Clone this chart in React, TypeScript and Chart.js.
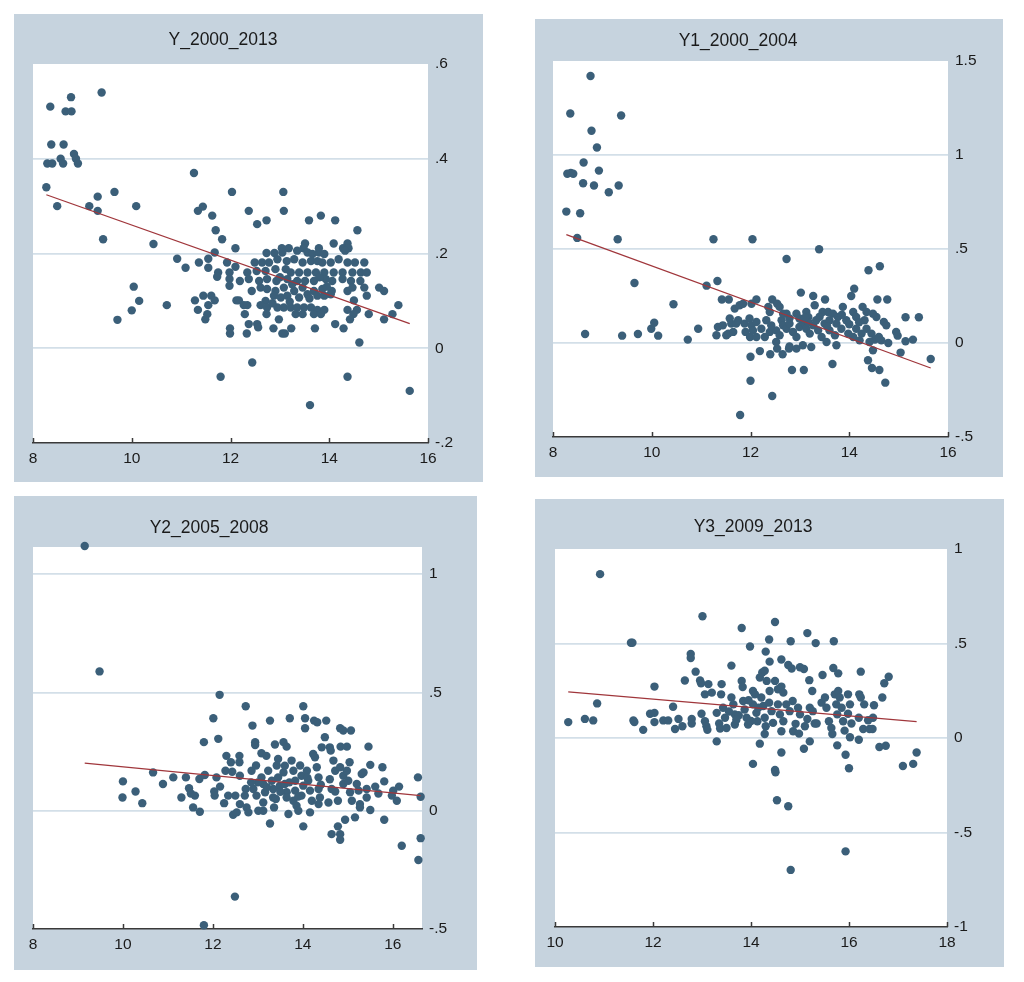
import React, { useEffect, useRef } from "react";
import { Chart, registerables } from "chart.js";

Chart.register(...registerables);

// ---------------- DATA ----------------
const panelTitles = ["Y_2000_2013", "Y1_2000_2004", "Y2_2005_2008", "Y3_2009_2013"];

const y2000_2013Points: [number, number][] = [
  [8.27, 0.34], [8.35, 0.51], [8.37, 0.43], [8.29, 0.39], [8.39, 0.39], [8.49, 0.30], [8.56, 0.40], [8.61, 0.39],
  [8.62, 0.43], [8.66, 0.50], [8.78, 0.50], [8.77, 0.53], [8.83, 0.41], [8.87, 0.40], [8.91, 0.39], [9.14, 0.30],
  [9.31, 0.32], [9.31, 0.29], [9.39, 0.54], [9.42, 0.23], [9.65, 0.33], [9.71, 0.06], [10.0, 0.08], [10.04, 0.13],
  [10.09, 0.30], [10.15, 0.10],
  [11.80, -0.06], [12.44, -0.03], [13.61, -0.12], [14.37, -0.06], [15.63, -0.09],
  [11.26, 0.370], [12.03, 0.330], [13.07, 0.330], [13.08, 0.290], [11.34, 0.290], [11.44, 0.299], [11.63, 0.280],
  [12.37, 0.290], [12.54, 0.262], [12.73, 0.270], [13.59, 0.270], [13.83, 0.280], [14.12, 0.270], [14.57, 0.249],
  [11.70, 0.249], [11.83, 0.230], [10.44, 0.220],
  [13.51, 0.221], [14.09, 0.221], [14.37, 0.221], [13.48, 0.211], [14.28, 0.211], [14.39, 0.211], [13.18, 0.211],
  [13.04, 0.211], [13.79, 0.211], [12.10, 0.211],
  [12.73, 0.201], [12.89, 0.201], [13.05, 0.202], [13.35, 0.206], [13.56, 0.202], [13.66, 0.199], [13.79, 0.202],
  [13.90, 0.199], [14.32, 0.206], [11.68, 0.202], [11.55, 0.189], [10.92, 0.189],
  [11.93, 0.181], [12.10, 0.172], [12.49, 0.181], [12.64, 0.181], [12.78, 0.181], [12.95, 0.188], [13.14, 0.184],
  [13.29, 0.188], [13.46, 0.181], [13.63, 0.184], [13.76, 0.184], [13.86, 0.181], [14.03, 0.181], [14.19, 0.188],
  [14.37, 0.181], [14.52, 0.181], [14.71, 0.181], [11.36, 0.181], [11.09, 0.170], [11.55, 0.170],
  [11.75, 0.160], [11.98, 0.160], [12.34, 0.160], [12.53, 0.163], [12.71, 0.163], [12.91, 0.167], [13.12, 0.167],
  [13.22, 0.160], [13.39, 0.160], [13.56, 0.160], [13.73, 0.160], [13.90, 0.160], [14.09, 0.160], [14.27, 0.160],
  [14.47, 0.160], [14.64, 0.160], [14.76, 0.160], [11.73, 0.151],
  [11.98, 0.146], [12.19, 0.142], [12.37, 0.146], [12.58, 0.142], [12.74, 0.146], [12.93, 0.142], [13.15, 0.146],
  [13.35, 0.142], [13.51, 0.142], [13.69, 0.142], [13.93, 0.146], [14.06, 0.142], [14.27, 0.146], [14.44, 0.142],
  [14.63, 0.142],
  [11.98, 0.132], [12.43, 0.121], [12.61, 0.128], [12.74, 0.125], [12.91, 0.121], [13.08, 0.128], [13.29, 0.121],
  [13.46, 0.128], [13.69, 0.121], [13.86, 0.125], [14.05, 0.121], [14.37, 0.121], [14.47, 0.128], [14.71, 0.128],
  [15.01, 0.128], [15.11, 0.121],
  [11.28, 0.101], [11.45, 0.111], [11.61, 0.111], [11.68, 0.101], [12.12, 0.101], [12.17, 0.101], [12.71, 0.100],
  [12.88, 0.111], [13.02, 0.107], [13.15, 0.111], [13.39, 0.107], [13.56, 0.114], [13.76, 0.111], [13.90, 0.111],
  [14.03, 0.114], [14.50, 0.101], [14.76, 0.111],
  [11.55, 0.091], [11.34, 0.081], [12.27, 0.091], [12.34, 0.091], [12.61, 0.091], [12.74, 0.086], [12.95, 0.086],
  [13.08, 0.086], [13.22, 0.086], [13.35, 0.086], [13.49, 0.086], [13.63, 0.086], [13.76, 0.081], [13.90, 0.081],
  [14.37, 0.081], [14.56, 0.081], [10.71, 0.091], [15.40, 0.091],
  [11.53, 0.072], [11.49, 0.061], [12.29, 0.072], [12.73, 0.072], [12.98, 0.061], [13.32, 0.072], [13.46, 0.072],
  [13.69, 0.072], [13.83, 0.072], [14.49, 0.072], [14.42, 0.061], [14.80, 0.072], [15.11, 0.061], [15.28, 0.072],
  [11.99, 0.042], [11.99, 0.031], [12.37, 0.051], [12.54, 0.051], [12.56, 0.044], [12.33, 0.031], [12.87, 0.042],
  [13.05, 0.031], [13.10, 0.031], [13.23, 0.042], [13.71, 0.042], [14.12, 0.051], [14.29, 0.042], [14.61, 0.012],
  [13.00, 0.150], [13.25, 0.135], [13.60, 0.105], [13.80, 0.150], [13.20, 0.098], [12.85, 0.095], [13.95, 0.130],
];
const y2000_2013FitX = [8.27, 15.63];
const y2000_2013FitY = [0.324, 0.052];

const y1_2000_2004Points: [number, number][] = [
  [8.76, 1.420], [8.35, 1.221], [9.38, 1.210], [8.78, 1.129], [8.89, 1.040], [8.62, 0.960], [8.93, 0.917],
  [8.29, 0.900], [8.36, 0.905], [8.41, 0.900], [8.61, 0.850], [8.83, 0.838], [9.33, 0.838], [9.13, 0.802],
  [8.27, 0.699], [8.55, 0.690], [8.49, 0.559], [9.31, 0.552], [8.65, 0.048], [9.40, 0.039], [9.65, 0.319],
  [9.72, 0.048], [9.99, 0.076], [10.05, 0.108], [10.13, 0.039], [10.44, 0.206], [10.73, 0.018], [10.94, 0.076],
  [11.11, 0.305], [11.25, 0.552], [11.33, 0.330], [12.04, 0.552], [13.39, 0.499], [12.73, 0.447], [14.39, 0.387],
  [14.62, 0.408], [14.10, 0.289], [14.04, 0.250], [13.02, 0.268], [13.27, 0.250], [13.51, 0.231], [14.57, 0.231],
  [14.77, 0.231], [15.14, 0.137], [15.41, 0.137], [14.98, 0.039], [15.14, 0.009], [15.29, 0.018], [15.04, -0.051],
  [15.65, -0.085], [14.79, 0.0], [14.38, -0.092], [14.46, -0.133], [14.61, -0.144], [14.73, -0.211], [13.66, -0.112],
  [12.84, -0.144], [13.08, -0.144], [12.00, -0.201], [12.44, -0.282], [11.79, -0.383], [12.0, -0.073], [12.19, -0.043],
  [12.40, -0.060], [12.65, -0.060], [12.54, -0.030], [12.78, -0.030],
  [11.42, 0.231], [11.56, 0.231], [11.68, 0.183], [11.78, 0.201], [11.85, 0.209], [12.02, 0.209], [12.12, 0.231],
  [12.36, 0.192], [12.44, 0.231], [12.54, 0.209], [12.39, 0.165], [12.73, 0.156], [12.79, 0.130], [13.13, 0.165],
  [13.17, 0.138], [13.30, 0.201], [13.46, 0.165], [13.57, 0.165], [13.67, 0.156], [13.87, 0.192], [13.77, 0.138],
  [14.08, 0.165], [14.14, 0.138], [14.27, 0.192], [14.35, 0.165], [14.48, 0.156], [14.55, 0.138], [14.31, 0.121],
  [14.35, 0.076], [14.45, 0.050], [14.52, 0.018], [14.70, 0.112], [14.75, 0.094], [11.58, 0.130], [11.61, 0.103],
  [11.34, 0.085], [11.31, 0.041], [11.44, 0.094], [11.51, 0.041], [11.55, 0.050], [11.65, 0.059], [11.71, 0.103],
  [11.75, 0.121], [11.88, 0.103], [11.98, 0.130], [12.02, 0.094], [12.12, 0.112], [12.22, 0.076], [11.90, 0.059],
  [11.99, 0.032], [12.29, 0.032], [12.39, 0.059], [12.52, 0.067], [12.59, 0.041], [12.52, 0.005], [12.63, 0.121],
  [12.66, 0.094], [12.73, 0.076], [12.79, 0.103], [12.86, 0.059], [12.93, 0.032], [12.99, 0.085], [13.06, 0.112],
  [12.79, -0.018], [12.93, -0.030], [13.06, -0.012], [13.23, -0.021], [13.13, 0.076], [13.20, 0.050], [13.27, 0.094],
  [13.37, 0.067], [13.44, 0.032], [13.50, 0.103], [13.54, 0.005], [13.60, 0.067], [13.71, 0.041], [13.74, -0.012],
  [13.60, 0.121], [13.74, 0.103], [13.84, 0.076], [13.94, 0.121], [13.98, 0.050], [14.08, 0.032], [14.14, 0.076],
  [14.21, 0.014], [14.25, 0.050], [12.59, 0.192], [12.66, 0.156], [12.32, 0.121], [12.42, 0.094], [12.93, 0.156],
  [12.99, 0.130], [13.17, 0.112], [13.33, 0.121], [14.41, 0.005], [14.48, -0.039], [14.60, 0.032], [14.65, 0.014],
  [14.95, 0.059], [12.12, 0.032], [12.05, 0.067],
  [13.40, 0.140], [13.55, 0.090], [13.85, 0.150], [14.00, 0.100], [13.10, 0.135], [14.20, 0.110],
];
const y1_2000_2004FitX = [8.27, 15.65];
const y1_2000_2004FitY = [0.577, -0.133];

const y2_2005_2008Points: [number, number][] = [
  [9.15, 1.119], [9.48, 0.589], [10.0, 0.124], [9.99, 0.056], [10.28, 0.081], [10.43, 0.032], [10.67, 0.162],
  [10.89, 0.113], [11.12, 0.141], [11.30, 0.056], [11.40, 0.141], [11.47, 0.095], [11.51, 0.073], [11.56, 0.014],
  [11.60, 0.064], [11.71, -0.004], [11.70, 0.134], [11.80, 0.290], [11.82, 0.151], [11.80, -0.484], [12.01, 0.391],
  [12.03, 0.081], [12.04, 0.064], [12.08, 0.141], [12.12, 0.304], [12.15, 0.490], [12.16, 0.102], [12.25, 0.032],
  [12.30, 0.232], [12.28, 0.169], [12.34, 0.064], [12.40, 0.205], [12.43, 0.165], [12.45, -0.017], [12.53, -0.007],
  [12.49, -0.363], [12.50, 0.064], [12.59, 0.232], [12.59, 0.205], [12.60, 0.028], [12.60, 0.148], [12.73, 0.442],
  [12.73, 0.092], [12.71, 0.064], [12.75, 0.014], [12.79, -0.007], [12.88, 0.360], [12.86, 0.169], [12.90, 0.092],
  [12.94, 0.290], [12.94, 0.278], [12.96, 0.191], [12.97, 0.064], [13.01, 0.0], [13.12, 0.0], [13.08, 0.243],
  [13.19, 0.232], [13.08, 0.141], [13.12, 0.113], [13.16, 0.078], [13.12, 0.035], [13.27, 0.381], [13.27, -0.054],
  [13.23, 0.169], [13.31, 0.127], [13.34, 0.092], [13.34, 0.056], [13.36, 0.014], [13.38, 0.280], [13.45, 0.219],
  [13.42, 0.191], [13.45, 0.141], [13.49, 0.106], [13.57, 0.162], [13.60, 0.113], [13.64, 0.078], [13.64, 0.056],
  [13.57, 0.290], [13.64, 0.271], [13.68, -0.014], [13.71, 0.391], [13.75, 0.212], [13.79, 0.169], [13.83, 0.127],
  [13.83, 0.085], [13.79, 0.042], [13.86, 0.021], [13.90, 0.0], [13.94, 0.191], [13.97, 0.148], [14.01, 0.106],
  [13.97, 0.064], [14.01, -0.066], [14.01, 0.442], [14.05, 0.391], [14.05, 0.349], [14.09, 0.169], [14.12, 0.127],
  [14.16, 0.085], [14.20, 0.042], [14.16, -0.007], [14.25, 0.381], [14.32, 0.374], [14.23, 0.240], [14.27, 0.226],
  [14.31, 0.184], [14.35, 0.141], [14.35, 0.092], [14.38, 0.056], [14.35, 0.028], [14.42, 0.268], [14.49, 0.311],
  [14.52, 0.381], [14.57, 0.035], [14.60, 0.133], [14.64, 0.092], [14.60, 0.268], [14.62, 0.254], [14.64, -0.099],
  [14.68, 0.212], [14.72, 0.169], [14.72, 0.081], [14.78, 0.042], [14.78, -0.066], [14.83, 0.349], [14.90, 0.339],
  [14.83, -0.099], [14.83, -0.123], [14.83, 0.184], [14.90, 0.148], [14.90, 0.113], [14.84, 0.271], [14.98, 0.271],
  [14.94, -0.038], [14.98, 0.169], [15.01, 0.127], [15.04, 0.205], [15.07, 0.339], [15.05, 0.078], [15.09, 0.042],
  [15.16, -0.028], [15.20, 0.113], [15.24, 0.085], [15.27, 0.028], [15.27, 0.014], [15.31, 0.155], [15.35, 0.162],
  [15.42, 0.092], [15.42, 0.056], [15.46, 0.271], [15.50, 0.194], [15.50, 0.003], [15.61, 0.102], [15.68, 0.073],
  [15.77, 0.184], [15.81, 0.124], [15.81, -0.038], [15.98, 0.064], [16.01, 0.085], [16.09, 0.042], [16.14, 0.102],
  [16.20, -0.148], [16.56, 0.141], [16.62, 0.059], [16.62, -0.116], [16.57, -0.208],
  [13.20, 0.100], [13.50, 0.080], [13.70, 0.120], [13.90, 0.060], [14.10, 0.140], [13.40, 0.050], [13.00, 0.120],
  [12.85, 0.120], [13.60, 0.190], [14.40, 0.110],
];
const y2_2005_2008FitX = [9.15, 16.62];
const y2_2005_2008FitY = [0.201, 0.064];

const y3_2009_2013Points: [number, number][] = [
  [10.92, 0.867], [10.27, 0.084], [10.61, 0.101], [10.78, 0.093], [10.86, 0.183], [11.55, 0.504], [11.58, 0.504],
  [11.60, 0.093], [11.62, 0.084], [11.80, 0.043], [12.03, 0.272], [11.94, 0.128], [12.03, 0.133], [12.03, 0.084],
  [12.21, 0.093], [12.31, 0.093], [12.41, 0.165], [12.45, 0.048], [12.52, 0.101], [12.60, 0.062], [12.65, 0.304],
  [12.77, 0.445], [12.77, 0.423], [12.79, 0.101], [12.79, 0.077], [12.87, 0.351], [12.96, 0.304], [12.98, 0.290],
  [13.01, 0.644], [12.99, 0.128], [13.06, 0.089], [13.09, 0.062], [13.11, 0.043], [13.06, 0.231], [13.13, 0.285],
  [13.20, 0.240], [13.30, -0.018], [13.30, 0.133], [13.35, 0.077], [13.37, 0.050], [13.39, 0.231], [13.40, 0.285],
  [13.43, 0.160], [13.47, 0.107], [13.50, 0.053], [13.60, 0.383], [13.60, 0.214], [13.64, 0.178], [13.67, 0.125],
  [13.67, 0.071], [13.81, 0.582], [13.81, 0.302], [13.83, 0.270], [13.84, 0.196], [13.87, 0.151], [13.91, 0.107],
  [13.94, 0.071], [13.98, 0.484], [14.04, 0.249], [14.08, 0.231], [14.04, -0.137], [14.04, 0.178], [14.11, 0.133],
  [14.13, 0.089], [14.18, -0.030], [14.18, 0.320], [14.23, 0.347], [14.28, 0.356], [14.32, 0.302], [14.21, 0.214],
  [14.25, 0.169], [14.28, 0.107], [14.30, 0.062], [14.28, 0.021], [14.30, 0.457], [14.37, 0.521], [14.38, 0.404],
  [14.38, 0.249], [14.37, 0.187], [14.42, 0.142], [14.45, 0.080], [14.49, 0.614], [14.49, 0.302], [14.49, -0.169],
  [14.50, -0.181], [14.53, -0.329], [14.55, 0.258], [14.62, 0.272], [14.66, 0.240], [14.55, 0.178], [14.59, 0.125],
  [14.66, 0.089], [14.62, 0.036], [14.62, 0.415], [14.62, -0.077], [14.76, 0.386], [14.76, -0.361], [14.81, -0.698],
  [14.81, 0.512], [14.72, 0.178], [14.79, 0.142], [14.85, 0.196], [14.86, 0.036], [14.91, 0.075], [14.83, 0.368],
  [15.00, 0.374], [15.08, 0.365], [14.96, 0.160], [15.00, 0.125], [14.98, 0.023], [15.08, -0.057], [15.10, 0.062],
  [15.15, 0.101], [15.15, 0.555], [15.19, 0.306], [15.25, 0.249], [15.20, -0.018], [15.20, 0.160], [15.26, 0.142],
  [15.30, 0.077], [15.34, 0.077], [15.32, 0.502], [15.44, 0.187], [15.46, 0.333], [15.51, 0.214], [15.54, 0.160],
  [15.59, 0.089], [15.64, 0.053], [15.66, 0.021], [15.68, 0.370], [15.69, 0.512], [15.71, 0.231], [15.74, 0.178],
  [15.76, 0.125], [15.76, -0.039], [15.78, 0.342], [15.78, 0.249], [15.81, 0.214], [15.85, 0.160], [15.88, 0.089],
  [15.91, 0.039], [15.93, -0.089], [15.93, -0.600], [15.98, 0.231], [16.02, 0.178], [15.98, 0.128], [16.05, 0.077],
  [16.02, 0.004], [16.00, -0.160], [16.20, -0.009], [16.21, 0.231], [16.24, 0.214], [16.31, 0.178], [16.20, 0.107],
  [16.24, 0.351], [16.29, 0.048], [16.42, 0.048], [16.48, 0.048], [16.39, 0.094], [16.49, 0.107], [16.51, 0.173],
  [16.62, -0.048], [16.75, -0.041], [16.68, 0.214], [16.72, 0.290], [16.81, 0.324], [17.10, -0.148], [17.31, -0.137],
  [17.38, -0.077],
  [13.75, 0.120], [13.55, 0.140], [14.00, 0.090], [14.15, 0.160], [13.95, 0.200], [13.70, 0.095],
];
const y3_2009_2013FitX = [10.27, 17.38];
const y3_2009_2013FitY = [0.244, 0.087];

// axis ranges and ticks
const xMins = [8, 8, 8, 10];
const xMaxs = [16, 16, 16.65, 18];
const xSteps = [2, 2, 2, 2];
const yMins = [-0.2, -0.5, -0.5, -1];
const yMaxs = [0.6, 1.5, 1.115, 1];
const ySteps = [0.2, 0.5, 0.5, 0.5];

// ---------------- LAYOUT / STYLE ----------------
const FONT = "'Liberation Sans', Arial, Helvetica, sans-serif";
const BG = "#c6d3de";
const DOT = "#3b5f79";
const FIT = "#a0363b";
const GRID = "#d3dfe8";
const AXIS = "#3a3a3a";
const TEXT = "#1a1a1a";

type Box = { left: number; top: number; width: number; height: number };
type PlotRect = { left: number; top: number; right: number; bottom: number };

const boxes: Box[] = [
  { left: 14, top: 14, width: 469, height: 468 },
  { left: 535, top: 19, width: 468, height: 458 },
  { left: 14, top: 496, width: 463, height: 474 },
  { left: 535, top: 499, width: 469, height: 468 },
];
const plots: PlotRect[] = [
  { left: 33, top: 64, right: 428, bottom: 443 },
  { left: 553, top: 61, right: 948, bottom: 437 },
  { left: 33, top: 547, right: 422, bottom: 929 },
  { left: 555, top: 549, right: 947, bottom: 927 },
];
const titlePos = [
  { x: 223, y: 39 },
  { x: 738, y: 40 },
  { x: 209, y: 527 },
  { x: 753, y: 526 },
];

const pointsList = [y2000_2013Points, y1_2000_2004Points, y2_2005_2008Points, y3_2009_2013Points];
const fitXs = [y2000_2013FitX, y1_2000_2004FitX, y2_2005_2008FitX, y3_2009_2013FitX];
const fitYs = [y2000_2013FitY, y1_2000_2004FitY, y2_2005_2008FitY, y3_2009_2013FitY];

function fmtTick(v: number): string {
  const r = Math.round(v * 100) / 100;
  if (Math.abs(r) < 1e-9) return "0";
  return String(r).replace(/^(-?)0\./, "$1.");
}

const plotBgPlugin = {
  id: "plotBg",
  beforeDraw(chart: any) {
    const { ctx, chartArea: a } = chart;
    ctx.save();
    ctx.fillStyle = "#ffffff";
    ctx.fillRect(a.left, a.top, a.right - a.left, a.bottom - a.top);
    ctx.restore();
  },
};

const upTicksPlugin = {
  id: "upTicks",
  beforeDatasetsDraw(chart: any) {
    const { ctx, chartArea: a } = chart;
    const xs = chart.scales.x;
    ctx.save();
    ctx.strokeStyle = AXIS;
    ctx.lineWidth = 1.5;
    xs.ticks.forEach((t: any) => {
      const px = Math.round(xs.getPixelForValue(t.value)) + 0.5;
      ctx.beginPath();
      ctx.moveTo(px, a.bottom);
      ctx.lineTo(px, a.bottom - 5);
      ctx.stroke();
    });
    ctx.restore();
  },
};

function Panel({ i }: { i: number }) {
  const ref = useRef<HTMLCanvasElement | null>(null);
  const box = boxes[i];
  const plot = plots[i];

  useEffect(() => {
    if (!ref.current) return;
    const yMin = yMins[i];
    const yMax = yMaxs[i];
    const xAxisH = box.top + box.height - plot.bottom;
    const yAxisW = box.left + box.width - plot.right;
    const chart = new Chart(ref.current, {
      type: "scatter",
      data: {
        datasets: [
          {
            type: "line",
            data: fitXs[i].map((x, k) => ({ x, y: fitYs[i][k] })),
            borderColor: FIT,
            borderWidth: 1.3,
            pointRadius: 0,
            fill: false,
            tension: 0,
            order: 0,
          } as any,
          {
            type: "scatter",
            data: pointsList[i].map(([x, y]) => ({ x, y })),
            backgroundColor: DOT,
            borderColor: DOT,
            borderWidth: 0,
            pointRadius: 4.2,
            pointHoverRadius: 4.2,
            clip: false,
            order: 1,
          } as any,
        ],
      },
      options: {
        responsive: false,
        animation: false,
        devicePixelRatio: 1,
        events: [],
        layout: {
          padding: { left: plot.left - box.left, top: plot.top - box.top, right: 0, bottom: 0 },
        },
        plugins: {
          legend: { display: false },
          tooltip: { enabled: false },
          title: { display: false },
        },
        scales: {
          x: {
            type: "linear",
            position: "bottom",
            min: xMins[i],
            max: xMaxs[i],
            afterFit: (s: any) => {
              s.height = xAxisH;
            },
            grid: { drawOnChartArea: false, drawTicks: false },
            border: { display: true, color: AXIS, width: 1.6 },
            ticks: {
              stepSize: xSteps[i],
              includeBounds: false,
              autoSkip: false,
              maxRotation: 0,
              minRotation: 0,
              padding: 6,
              color: TEXT,
              font: { family: FONT, size: 15.5 },
              callback: (v: any) => fmtTick(Number(v)),
            },
          },
          y: {
            type: "linear",
            position: "right",
            min: yMin,
            max: yMax,
            afterFit: (s: any) => {
              s.width = yAxisW;
            },
            grid: {
              drawTicks: false,
              lineWidth: 1.8,
              color: (ctx: any) => {
                const v = ctx.tick ? ctx.tick.value : 0;
                if (Math.abs(v - yMax) < 1e-6 || Math.abs(v - yMin) < 1e-6) return "rgba(0,0,0,0)";
                return GRID;
              },
            },
            border: { display: false },
            ticks: {
              stepSize: ySteps[i],
              includeBounds: false,
              autoSkip: false,
              padding: 7,
              color: TEXT,
              font: { family: FONT, size: 15.5 },
              callback: (v: any) => fmtTick(Number(v)),
            },
          },
        },
      } as any,
      plugins: [plotBgPlugin, upTicksPlugin],
    });
    return () => chart.destroy();
  }, [i]);

  const tp = titlePos[i];
  return (
    <div
      style={{
        position: "absolute",
        left: box.left,
        top: box.top,
        width: box.width,
        height: box.height,
        background: BG,
      }}
    >
      <canvas
        ref={ref}
        width={box.width}
        height={box.height}
        style={{ position: "absolute", left: 0, top: 0, width: box.width, height: box.height, display: "block" }}
      />
      <div
        style={{
          position: "absolute",
          left: tp.x - box.left,
          top: tp.y - box.top - 10,
          transform: "translateX(-50%)",
          whiteSpace: "nowrap",
          fontFamily: FONT,
          fontSize: 17.5,
          lineHeight: "20px",
          color: TEXT,
        }}
      >
        {panelTitles[i]}
      </div>
    </div>
  );
}

export default function App() {
  return (
    <div
      style={{
        position: "fixed",
        left: 0,
        top: 0,
        width: 1024,
        height: 982,
        background: "#ffffff",
        overflow: "hidden",
      }}
    >
      {[0, 1, 2, 3].map((i) => (
        <Panel key={i} i={i} />
      ))}
    </div>
  );
}
